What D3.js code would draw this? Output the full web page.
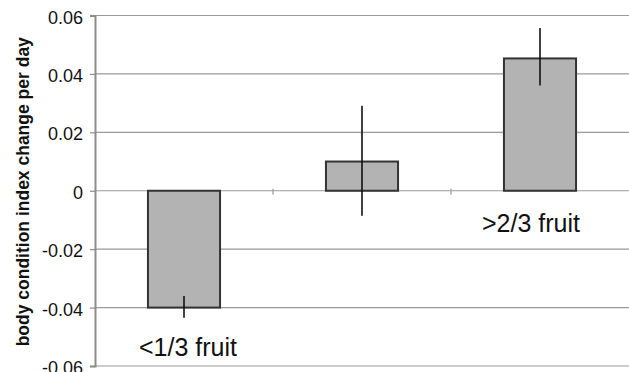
<!DOCTYPE html>
<html>
<head>
<meta charset="utf-8">
<script src="https://cdn.jsdelivr.net/npm/d3@7/dist/d3.min.js"></script>
<style>
  body { margin: 0; background: #fff; }
  svg { display: block; font-family: "Liberation Sans", Arial, sans-serif; }
</style>
</head>
<body>
<svg id="chart" width="629" height="372"></svg>
<script>
// Data
// ----
const categories = ["low", "mid", "high"];
const means = [0, 0.01, 0.0453];
const barBase = [-0.04, 0, 0];
const errLow = [-0.0435, -0.0086, 0.036];
const errHigh = [-0.036, 0.0291, 0.0557];
const yTicks = [0.06, 0.04, 0.02, 0, -0.02, -0.04, -0.06];
const yTickLabels = ["0.06", "0.04", "0.02", "0", "-0.02", "-0.04", "-0.06"];
const annotations = [
  { cat: "low", text: "<1/3 fruit", value: -0.0567, shift: 4 },
  { cat: "high", text: ">2/3 fruit", value: -0.014, shift: -9 }
];

// Layout
// ------
const W = 629, H = 372;
const margin = { top: 15.5, right: 0, bottom: 6, left: 95 };

const svg = d3.select("#chart");

const y = d3.scaleLinear()
  .domain([-0.06, 0.06])
  .range([H - margin.bottom, margin.top]);

const x = d3.scaleBand()
  .domain(categories)
  .range([margin.left, W - margin.right])
  .paddingInner(0.595)
  .paddingOuter(0.2975);

// Gridlines
svg.append("g")
  .selectAll("line")
  .data(yTicks)
  .join("line")
  .attr("x1", margin.left)
  .attr("x2", W - margin.right)
  .attr("y1", d => y(d))
  .attr("y2", d => y(d))
  .attr("stroke", "#9a9a9a")
  .attr("stroke-width", 1.2);

// Y axis
const yAxis = svg.append("g")
  .attr("transform", `translate(${margin.left},0)`)
  .call(d3.axisLeft(y).tickValues(yTicks).tickSize(5).tickPadding(7)
    .tickFormat((d, i) => yTickLabels[i]));
yAxis.select(".domain").attr("stroke", "#8c8c8c").attr("stroke-width", 2);
yAxis.selectAll(".tick line").attr("stroke", "#8c8c8c").attr("stroke-width", 1.2);
yAxis.selectAll(".tick text")
  .attr("font-size", 18)
  .attr("fill", "#111")
  .attr("font-family", "Liberation Sans, Arial, sans-serif")
  .attr("dy", "0.42em");

// Category divider ticks on the zero line
const step = x.step();
const dividers = categories.slice(1).map(c => x(c) - x.bandwidth() * 0 - (step - x.bandwidth()) / 2);
svg.append("g")
  .selectAll("line")
  .data(dividers)
  .join("line")
  .attr("x1", d => d).attr("x2", d => d)
  .attr("y1", y(0) - 2).attr("y2", y(0) + 4)
  .attr("stroke", "#9a9a9a")
  .attr("stroke-width", 1.2);

// Bars
svg.append("g")
  .selectAll("rect")
  .data(categories)
  .join("rect")
  .attr("x", d => x(d))
  .attr("width", x.bandwidth())
  .attr("y", (d, i) => y(Math.max(means[i], barBase[i])))
  .attr("height", (d, i) => Math.abs(y(means[i]) - y(barBase[i])))
  .attr("fill", "#b3b3b3")
  .attr("stroke", "#333")
  .attr("stroke-width", 2);

// Error bars
svg.append("g")
  .selectAll("line")
  .data(categories)
  .join("line")
  .attr("x1", d => x(d) + x.bandwidth() / 2)
  .attr("x2", d => x(d) + x.bandwidth() / 2)
  .attr("y1", (d, i) => y(errLow[i]))
  .attr("y2", (d, i) => y(errHigh[i]))
  .attr("stroke", "#111")
  .attr("stroke-width", 1.6);

// Annotations
svg.append("g")
  .selectAll("text")
  .data(annotations)
  .join("text")
  .attr("x", d => x(d.cat) + x.bandwidth() / 2 + d.shift)
  .attr("y", d => y(d.value))
  .attr("text-anchor", "middle")
  .attr("font-size", 25)
  .attr("fill", "#111")
  .text(d => d.text);

// Y axis title
svg.append("text")
  .attr("transform", `translate(29,${(y(0.06) + y(-0.06)) / 2 + 1}) rotate(-90)`)
  .attr("text-anchor", "middle")
  .attr("font-size", 17.5)
  .attr("font-weight", "bold")
  .attr("fill", "#111")
  .text("body condition index change per day");
</script>
</body>
</html>
